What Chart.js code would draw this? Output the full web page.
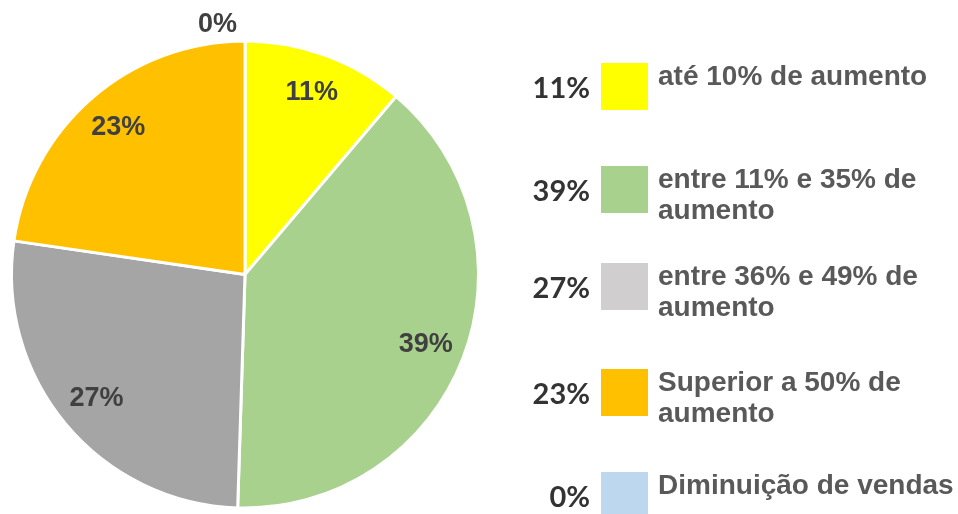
<!DOCTYPE html>
<html>
<head>
<meta charset="utf-8">
<script src="https://cdn.jsdelivr.net/npm/chart.js@4.4.1/dist/chart.umd.min.js"></script>
<style>
  html, body { margin: 0; padding: 0; background: #fff; }
  #wrap { width: 958px; height: 514px; position: relative; }
</style>
</head>
<body>
<div id="wrap"><canvas id="chart"></canvas></div>
<script>
// categories and values (percent of answers)
const categories = [
  "até 10% de aumento",
  "entre 11% e 35% de aumento",
  "entre 36% e 49% de aumento",
  "Superior a 50% de aumento",
  "Diminuição de vendas"
];
const values = [11.2, 39.3, 26.8, 22.7, 0];
const sliceColors = ["#FFFF00", "#A9D18E", "#A5A5A5", "#FFC000", "#BDD7EE"];
const legendColors = ["#FFFF00", "#A9D18E", "#D0CECE", "#FFC000", "#BDD7EE"];

const pct = v => Math.round(v) + "%";

// labels on the slices + the side legend with percentages
const labelsPlugin = {
  id: "labelsPlugin",
  afterDraw(chart) {
    const ctx = chart.ctx;
    const meta = chart.getDatasetMeta(0);

    ctx.save();
    ctx.font = "bold 27px 'Liberation Sans', Arial, sans-serif";
    ctx.fillStyle = "#404040";
    ctx.textBaseline = "middle";
    meta.data.forEach((arc, i) => {
      const p = arc.getProps(["x", "y", "startAngle", "endAngle", "outerRadius"], true);
      const mid = (p.startAngle + p.endAngle) / 2;
      if (values[i] === 0) {
        // zero slice: put the label outside, just left of the top
        ctx.textAlign = "right";
        ctx.fillText(pct(values[i]), p.x + Math.cos(mid) * (p.outerRadius + 16) - 8,
                     p.y + Math.sin(mid) * (p.outerRadius + 16));
      } else {
        ctx.textAlign = "center";
        const r = p.outerRadius * 0.83;
        ctx.fillText(pct(values[i]), p.x + Math.cos(mid) * r, p.y + Math.sin(mid) * r);
      }
    });
    ctx.restore();

    // legend
    const rowTops = [63, 166, 263, 369, 472];
    const boxX = 601, boxSize = 47, textX = 658, maxW = 298, lineH = 31;
    ctx.save();
    categories.forEach((cat, i) => {
      const top = rowTops[i];
      ctx.fillStyle = legendColors[i];
      ctx.fillRect(boxX, top, boxSize, boxSize);

      ctx.font = "bold 29px Lato, 'Open Sans', sans-serif";
      ctx.fillStyle = "#333333";
      ctx.textAlign = "right";
      ctx.textBaseline = "alphabetic";
      ctx.fillText(pct(values[i]), 590, top + 35);

      ctx.font = "bold 28px 'Liberation Sans', Arial, sans-serif";
      ctx.fillStyle = "#595959";
      ctx.textAlign = "left";
      const words = cat.split(" ");
      const lines = [];
      let line = "";
      words.forEach(w => {
        const test = line ? line + " " + w : w;
        if (ctx.measureText(test).width > maxW && line) {
          lines.push(line);
          line = w;
        } else {
          line = test;
        }
      });
      lines.push(line);
      lines.forEach((l, j) => ctx.fillText(l, textX, top + 22 + j * lineH));
    });
    ctx.restore();
  }
};

new Chart(document.getElementById("chart"), {
  type: "pie",
  data: {
    labels: categories,
    datasets: [{
      data: values,
      backgroundColor: sliceColors,
      borderColor: "#ffffff",
      borderWidth: 3
    }]
  },
  options: {
    responsive: true,
    maintainAspectRatio: false,
    animation: false,
    layout: { padding: { left: 10, right: 478, top: 39, bottom: 4 } },
    plugins: {
      legend: { display: false },
      tooltip: { enabled: false }
    }
  },
  plugins: [labelsPlugin]
});
</script>
</body>
</html>
